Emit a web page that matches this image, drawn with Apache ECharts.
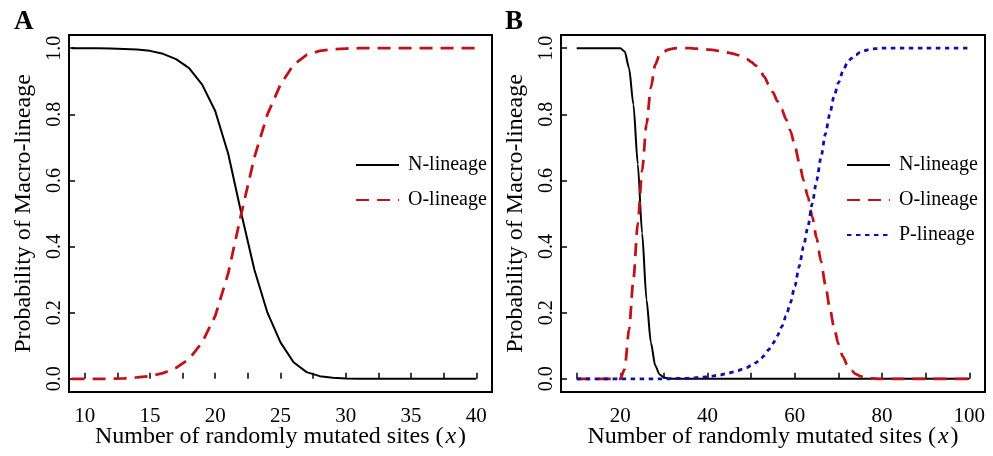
<!DOCTYPE html>
<html>
<head>
<meta charset="utf-8">
<script src="https://cdn.jsdelivr.net/npm/echarts@6/dist/echarts.min.js"></script>
<style>
html, body { margin: 0; padding: 0; background: #fff; }
#chart { width: 993px; height: 456px; }
</style>
</head>
<body>
<div id="chart"></div>
<script>
// panel A: number of mutated sites and probabilities
const xA = [9, 10, 11, 12, 13, 14, 15, 16, 17, 18, 19,
  20, 21, 22, 23, 24, 25, 26, 27, 28, 29,
  30, 31, 32, 33, 34, 35, 36, 37, 38, 39, 40];
const nLineageA = [1, 1, 1, 0.999, 0.998, 0.996, 0.992, 0.983, 0.967, 0.94, 0.89,
  0.81, 0.68, 0.5, 0.33, 0.2, 0.11, 0.05, 0.02, 0.008, 0.003,
  0.001, 0, 0, 0, 0, 0, 0, 0, 0, 0, 0];
const oLineageA = [0, 0, 0, 0, 0.001, 0.004, 0.008, 0.017, 0.033, 0.06, 0.11,
  0.19, 0.32, 0.5, 0.67, 0.8, 0.89, 0.95, 0.98, 0.992, 0.997,
  0.999, 1, 1, 1, 1, 1, 1, 1, 1, 1, 1];

// panel B
const xB = [10, 12, 14, 16, 18,
  20, 21, 22, 23, 24, 25, 26, 27, 28, 29,
  30, 31, 32, 33, 34, 35, 36, 37, 38, 39,
  40, 41, 42, 43, 44, 45, 46, 47, 48, 49,
  50, 51, 52, 53, 54, 55, 56, 57, 58, 59,
  60, 61, 62, 63, 64, 65, 66, 67, 68, 69,
  70, 71, 72, 73, 74, 75, 76, 77, 78, 79,
  80, 85, 90, 95, 100];
const nLineageB = [1, 1, 1, 1, 1,
  1, 0.99, 0.94, 0.83, 0.65, 0.44, 0.24, 0.11, 0.04, 0.013,
  0.004, 0.001, 0, 0, 0, 0, 0, 0, 0, 0,
  0, 0, 0, 0, 0, 0, 0, 0, 0, 0,
  0, 0, 0, 0, 0, 0, 0, 0, 0, 0,
  0, 0, 0, 0, 0, 0, 0, 0, 0, 0,
  0, 0, 0, 0, 0, 0, 0, 0, 0, 0,
  0, 0, 0, 0, 0];
const oLineageB = [0, 0, 0, 0, 0,
  0, 0.03, 0.15, 0.3, 0.47, 0.63, 0.77, 0.88, 0.95, 0.98,
  0.99, 0.996, 0.999, 1, 1, 1, 1, 0.999, 0.998, 0.997,
  0.996, 0.995, 0.993, 0.991, 0.989, 0.986, 0.983, 0.979, 0.974, 0.967,
  0.959, 0.948, 0.933, 0.914, 0.89, 0.866, 0.84, 0.815, 0.785, 0.75,
  0.705, 0.655, 0.6, 0.55, 0.49, 0.425, 0.355, 0.285, 0.215, 0.155,
  0.105, 0.068, 0.042, 0.025, 0.014, 0.008, 0.004, 0.002, 0.001, 0,
  0, 0, 0, 0, 0];
const pLineageB = [0, 0, 0, 0, 0,
  0, 0, 0, 0, 0, 0, 0, 0, 0, 0,
  0, 0, 0.001, 0.001, 0.001, 0.001, 0.002, 0.003, 0.004, 0.005,
  0.006, 0.008, 0.01, 0.012, 0.015, 0.018, 0.021, 0.025, 0.029, 0.034,
  0.04, 0.048, 0.058, 0.07, 0.088, 0.107, 0.13, 0.157, 0.19, 0.23,
  0.28, 0.34, 0.4, 0.46, 0.53, 0.6, 0.67, 0.74, 0.8, 0.855,
  0.895, 0.93, 0.955, 0.97, 0.98, 0.988, 0.993, 0.996, 0.998, 0.999,
  1, 1, 1, 1, 1];

// ticks and labels
const xTicksA = [10, 12.5, 15, 17.5, 20, 22.5, 25, 27.5, 30, 32.5, 35, 37.5, 40];
const xLabelsA = [10, 15, 20, 25, 30, 35, 40];
const xTicksB = [10, 20, 30, 40, 50, 60, 70, 80, 90, 100];
const xLabelsB = [20, 40, 60, 80, 100];
const yTicks = [0, 0.2, 0.4, 0.6, 0.8, 1.0];

const FONT = "'Liberation Serif', 'Times New Roman', serif";
const RED = '#c0121a';
const BLUE = '#1010a8';

const pairs = (xs, ys) => xs.map((x, i) => [x, ys[i]]);

const xAxisBase = (idx, min, max, ticks, labels) => ({
  type: 'value',
  gridIndex: idx,
  min: min,
  max: max,
  axisLine: { show: false },
  splitLine: { show: false },
  axisTick: { show: true, inside: true, length: 6, customValues: ticks, lineStyle: { color: '#000', width: 1.5 } },
  axisLabel: { customValues: labels, margin: 14, color: '#000', fontSize: 21, fontFamily: FONT },
  name: '{t|Number of randomly mutated sites (}{i|x}{t|)}',
  nameLocation: 'middle',
  nameGap: 33,
  nameMoveOverlap: false,
  nameTextStyle: {
    rich: {
      t: { fontSize: 24, fontFamily: FONT, color: '#000' },
      i: { fontSize: 24, fontFamily: FONT, fontStyle: 'italic', color: '#000', padding: [0, 2, 0, 2] }
    }
  }
});

const yAxisBase = (idx) => ({
  type: 'value',
  gridIndex: idx,
  min: -0.04,
  max: 1.04,
  axisLine: { show: false },
  splitLine: { show: false },
  axisTick: { show: true, inside: true, length: 6, customValues: yTicks, lineStyle: { color: '#000', width: 1.5 } },
  axisLabel: {
    customValues: yTicks, rotate: 90, margin: 4, color: '#000', fontSize: 20, fontFamily: FONT,
    formatter: v => v.toFixed(1)
  },
  name: 'Probability of Macro-lineage',
  nameLocation: 'middle',
  nameGap: 33,
  nameMoveOverlap: false,
  nameTextStyle: { fontSize: 24, fontFamily: FONT, color: '#000' }
});

const legendBase = (left, names) => ({
  left: left,
  top: 155,
  padding: 0,
  orient: 'vertical',
  itemWidth: 43,
  itemHeight: 20,
  itemGap: 15,
  selectedMode: false,
  data: names,
  itemStyle: { opacity: 0 },
  textStyle: { fontSize: 20, fontFamily: FONT, color: '#000', padding: [0, 0, 0, 4] }
});

const nStyle = { color: '#000', width: 2, type: 'solid' };
const oStyle = { color: RED, width: 2.8, type: [13, 8], cap: 'butt' };
const pStyle = { color: BLUE, width: 2.8, type: [4.5, 4.5], cap: 'butt' };

const chart = echarts.init(document.getElementById('chart'), null, { renderer: 'canvas' });

const gridBase = (left, right) => ({
  left: left, right: right, top: 35, bottom: 64,
  outerBoundsMode: 'none',
  show: true, borderColor: '#000', borderWidth: 2, backgroundColor: 'transparent'
});

const option = {
  animation: false,
  backgroundColor: '#fff',
  title: [
    { text: 'A', left: 9, top: 4, textStyle: { fontSize: 27, fontWeight: 'bold', fontFamily: FONT, color: '#000' } },
    { text: 'B', left: 500, top: 4, textStyle: { fontSize: 27, fontWeight: 'bold', fontFamily: FONT, color: '#000' } }
  ],
  grid: [gridBase(69, 501), gridBase(561, 8)],
  legend: [
    legendBase(355, ['N-lineage', 'O-lineage']),
    legendBase(846, ['N-lineage', 'O-lineage', 'P-lineage'])
  ],
  xAxis: [
    xAxisBase(0, 8.8, 41.2, xTicksA, xLabelsA),
    xAxisBase(1, 6.4, 103.6, xTicksB, xLabelsB)
  ],
  yAxis: [yAxisBase(0), yAxisBase(1)],
  series: [
    { name: 'N-lineage', type: 'line', xAxisIndex: 0, yAxisIndex: 0, symbol: 'none', data: pairs(xA, nLineageA), lineStyle: nStyle, itemStyle: { color: '#000' } },
    { name: 'O-lineage', type: 'line', xAxisIndex: 0, yAxisIndex: 0, symbol: 'none', data: pairs(xA, oLineageA), lineStyle: oStyle, itemStyle: { color: RED } },
    { name: 'N-lineage', type: 'line', xAxisIndex: 1, yAxisIndex: 1, symbol: 'none', smooth: 0.25, smoothMonotone: 'x', data: pairs(xB, nLineageB), lineStyle: nStyle, itemStyle: { color: '#000' } },
    { name: 'O-lineage', type: 'line', xAxisIndex: 1, yAxisIndex: 1, symbol: 'none', smooth: 0.25, smoothMonotone: 'x', data: pairs(xB, oLineageB), lineStyle: oStyle, itemStyle: { color: RED } },
    { name: 'P-lineage', type: 'line', xAxisIndex: 1, yAxisIndex: 1, symbol: 'none', smooth: 0.25, smoothMonotone: 'x', data: pairs(xB, pLineageB), lineStyle: pStyle, itemStyle: { color: BLUE } }
  ]
};

chart.setOption(option);
</script>
</body>
</html>
